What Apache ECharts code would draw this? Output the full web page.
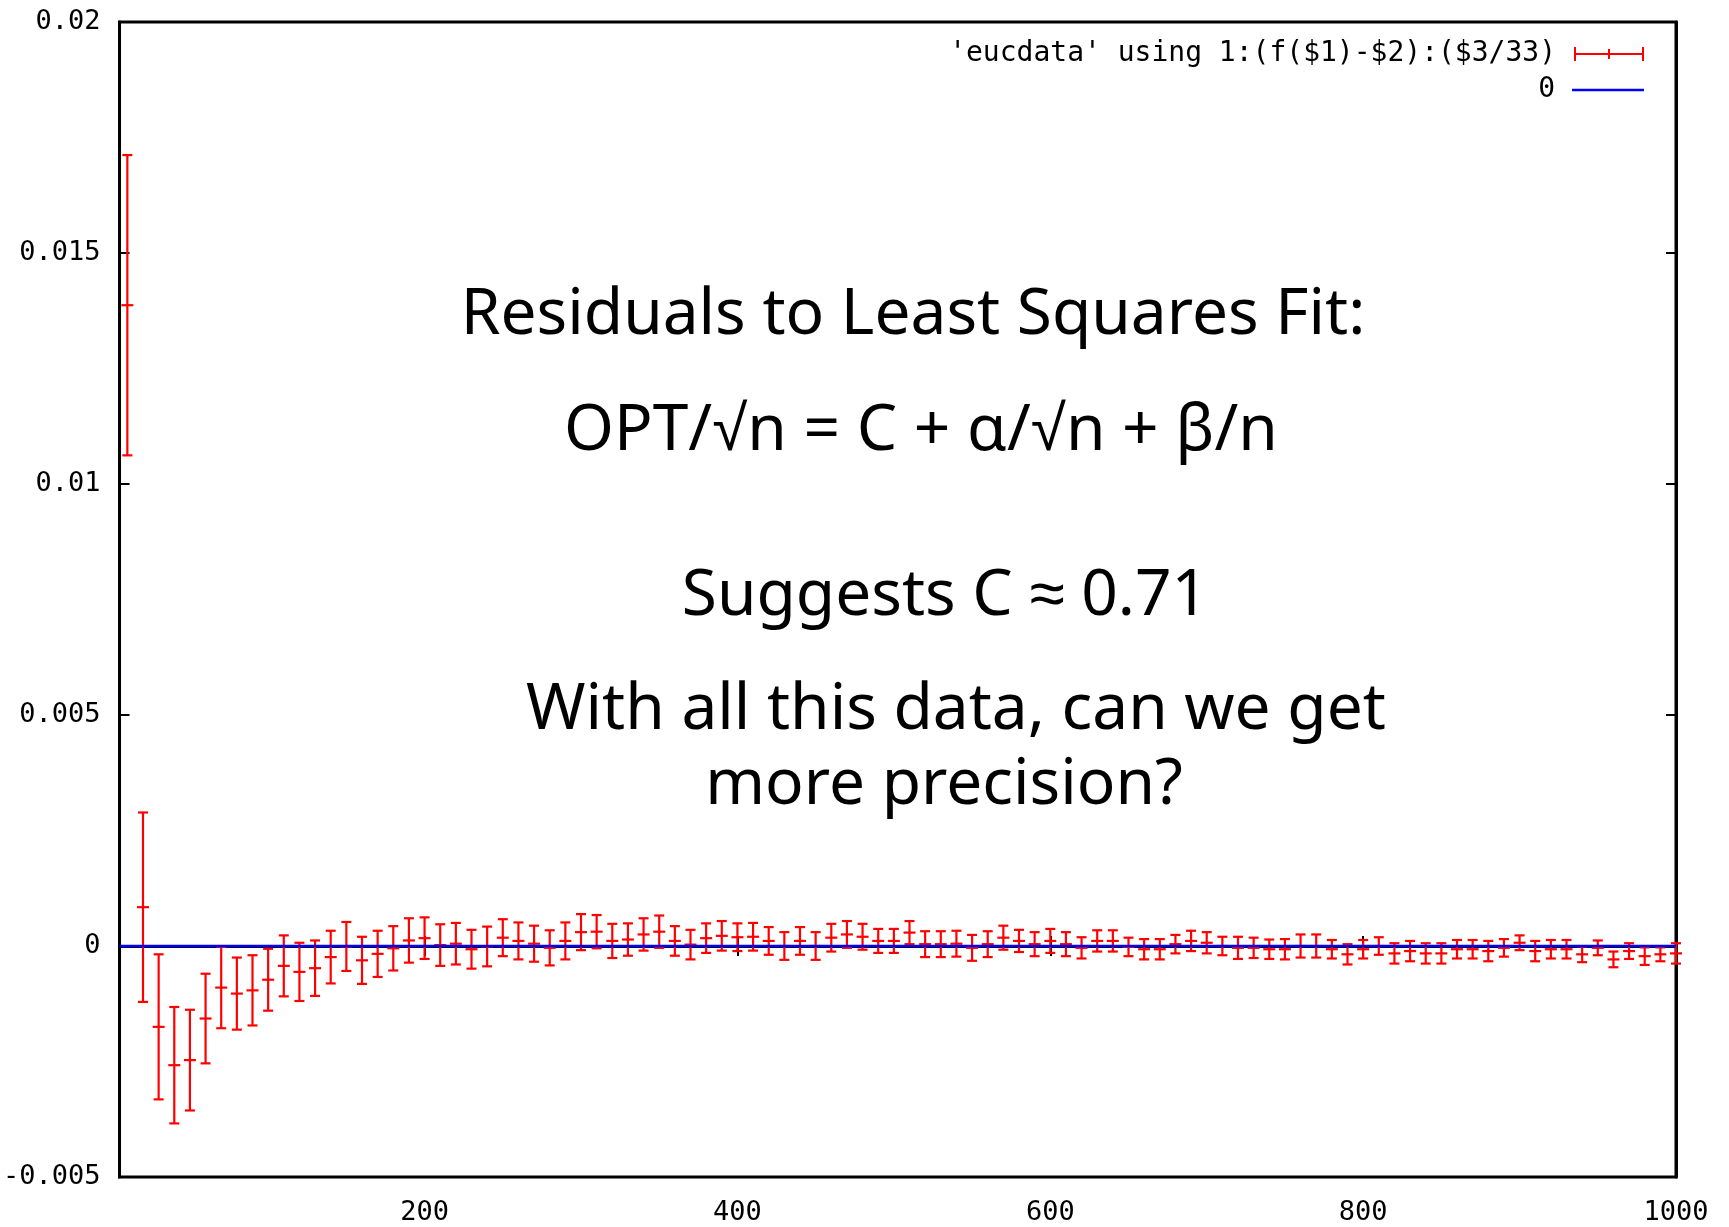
<!DOCTYPE html>
<html>
<head>
<meta charset="utf-8">
<script src="https://cdn.jsdelivr.net/npm/echarts@6/dist/echarts.min.js"></script>
<style>html,body{margin:0;padding:0;background:#fff}#c{width:1729px;height:1227px}</style>
</head>
<body>
<div id="c"></div>
<script>
// n values
const nValues = [10,20,30,40,50,60,70,80,90,100,110,120,130,140,150,160,170,180,190,200,
210,220,230,240,250,260,270,280,290,300,310,320,330,340,350,360,370,380,390,400,
410,420,430,440,450,460,470,480,490,500,510,520,530,540,550,560,570,580,590,600,
610,620,630,640,650,660,670,680,690,700,710,720,730,740,750,760,770,780,790,800,
810,820,830,840,850,860,870,880,890,900,910,920,930,940,950,960,970,980,990,1000];
// residual f($1)-$2
const residuals = [0.01387,0.00084,-0.00175,-0.00258,-0.00247,-0.00157,-0.00090,-0.00103,-0.00096,-0.00073,
-0.00043,-0.00056,-0.00048,-0.00024,-0.00001,-0.00031,-0.00017,-0.00005,0.00012,0.00017,
0.00002,0.00005,-0.00007,-0.00001,0.00018,0.00011,0.00005,-0.00004,0.00011,0.00030,
0.00031,0.00011,0.00014,0.00025,0.00031,0.00011,0.00003,0.00017,0.00022,0.00019,
0.00020,0.00011,0.00000,0.00011,0.00000,0.00018,0.00025,0.00020,0.00011,0.00011,
0.00029,0.00004,0.00004,0.00005,-0.00004,0.00004,0.00018,0.00011,0.00004,0.00011,
0.00004,-0.00004,0.00011,0.00011,-0.00002,-0.00007,-0.00007,0.00004,0.00011,0.00007,
0.00000,-0.00004,-0.00004,-0.00007,-0.00007,0.00000,0.00000,-0.00007,-0.00018,-0.00007,
0.00000,-0.00016,-0.00011,-0.00016,-0.00016,-0.00007,-0.00007,-0.00011,-0.00004,0.00007,
-0.00011,-0.00007,-0.00007,-0.00018,-0.00004,-0.00029,-0.00011,-0.00022,-0.00018,-0.00016];
// error $3/33
const errors = [0.00325,0.00205,0.00157,0.00126,0.00109,0.00097,0.00088,0.00078,0.00076,0.00067,
0.00066,0.00063,0.00060,0.00057,0.00053,0.00051,0.00050,0.00048,0.00048,0.00045,
0.00045,0.00045,0.00042,0.00043,0.00040,0.00040,0.00039,0.00038,0.00040,0.00039,
0.00036,0.00037,0.00035,0.00035,0.00035,0.00032,0.00032,0.00032,0.00032,0.00030,
0.00030,0.00030,0.00030,0.00030,0.00030,0.00030,0.00029,0.00028,0.00026,0.00026,
0.00025,0.00028,0.00028,0.00028,0.00028,0.00028,0.00026,0.00024,0.00026,0.00026,
0.00026,0.00023,0.00023,0.00023,0.00020,0.00022,0.00022,0.00020,0.00022,0.00023,
0.00020,0.00024,0.00022,0.00021,0.00022,0.00025,0.00025,0.00020,0.00022,0.00020,
0.00019,0.00022,0.00022,0.00022,0.00022,0.00020,0.00020,0.00022,0.00019,0.00016,
0.00022,0.00020,0.00020,0.00017,0.00016,0.00017,0.00017,0.00019,0.00015,0.00022];
const xTickValues = [200,400,600,800,1000];
const zeroLineX = [5,1000];
const zeroLineY = [0,0];
const seriesNames = ["'eucdata' using 1:(f($1)-$2):($3/33)", "0"];
const annotations = [
  "Residuals to Least Squares Fit:",
  "OPT/\u221An = C + \u03B1/\u221An + \u03B2/n",
  "Suggests C \u2248 0.71",
  "With all this data, can we get",
  "more precision?"
];

const errData = nValues.map((n,i)=>[n, residuals[i], errors[i]]);
const zeroData = zeroLineX.map((x,i)=>[x, zeroLineY[i]]);

const monoFont = "'DejaVu Sans Mono', monospace";
const annFont = "'Noto Sans', sans-serif";

const chart = echarts.init(document.getElementById('c'), null, {renderer:'canvas'});
const tickStyle = {inside:true, length:10, lineStyle:{color:'#000', width:2}};
const annStyle = (i, x, y) => ({type:'text', z:10, style:{text:annotations[i], x:x, y:y, textAlign:'center', textVerticalAlign:'middle', font:'64px '+annFont, fill:'#000'}});
const option = {
  backgroundColor:'#ffffff',
  animation:false,
  grid:{left:116, right:53, top:22, bottom:50, show:true, borderColor:'#000', borderWidth:3, backgroundColor:'transparent'},
  xAxis:[{
    type:'value', min:5, max:1000, position:'bottom',
    axisLine:{show:true, lineStyle:{color:'#000', width:3}},
    axisTick:Object.assign({customValues:xTickValues}, tickStyle),
    axisLabel:{customValues:xTickValues, color:'#000', fontFamily:monoFont, fontSize:27, margin:22, formatter:v=>String(v)},
    splitLine:{show:false}
  },{
    type:'value', min:5, max:1000, position:'top',
    axisLine:{show:true, lineStyle:{color:'#000', width:3}},
    axisTick:Object.assign({customValues:xTickValues}, tickStyle),
    axisLabel:{show:false},
    splitLine:{show:false}
  }],
  yAxis:[{
    type:'value', min:-0.005, max:0.02, interval:0.005, position:'left',
    axisLine:{show:true, lineStyle:{color:'#000', width:3}},
    axisTick:tickStyle,
    axisLabel:{color:'#000', fontFamily:monoFont, fontSize:27, margin:19},
    splitLine:{show:false}
  },{
    type:'value', min:-0.005, max:0.02, interval:0.005, position:'right',
    axisLine:{show:true, lineStyle:{color:'#000', width:3}},
    axisTick:tickStyle,
    axisLabel:{show:false},
    splitLine:{show:false}
  }],
  legend:[{
    data:[{name:seriesNames[0], icon:'path://M0,6h70v2H0z M0,0h2v14H0z M68,0h2v14h-2z M34,2h2v10h-2z'}],
    right:80, top:35, align:'right', orient:'vertical',
    itemWidth:72, itemHeight:14,
    textStyle:{color:'#000', fontFamily:monoFont, fontSize:28, padding:[0,12,0,0]},
    selectedMode:false
  },{
    data:[{name:seriesNames[1], icon:'path://M0,0h72v2.5H0z'}],
    right:80, top:71, align:'right', orient:'vertical',
    itemWidth:72, itemHeight:14,
    textStyle:{color:'#000', fontFamily:monoFont, fontSize:28, padding:[0,12,0,0]},
    selectedMode:false
  }],
  series:[{
    name:seriesNames[0],
    type:'custom',
    xAxisIndex:0, yAxisIndex:0,
    data:errData,
    itemStyle:{color:'#ff0000'},
    renderItem:function(params, api){
      const x = api.value(0), y = api.value(1), e = api.value(2);
      const pc = api.coord([x,y]);
      const pt = api.coord([x,y+e]);
      const pb = api.coord([x,y-e]);
      const hw = 5;
      const st = {stroke:'#ff0000', lineWidth:2.2};
      return {type:'group', children:[
        {type:'line', shape:{x1:pt[0],y1:pt[1],x2:pb[0],y2:pb[1]}, style:st},
        {type:'line', shape:{x1:pt[0]-hw,y1:pt[1],x2:pt[0]+hw,y2:pt[1]}, style:st},
        {type:'line', shape:{x1:pb[0]-hw,y1:pb[1],x2:pb[0]+hw,y2:pb[1]}, style:st},
        {type:'line', shape:{x1:pc[0]-hw-1,y1:pc[1],x2:pc[0]+hw+1,y2:pc[1]}, style:st}
      ]};
    },
    z:2
  },{
    name:seriesNames[1],
    type:'line',
    xAxisIndex:0, yAxisIndex:0,
    data:zeroData,
    symbol:'none',
    lineStyle:{color:'#0000ff', width:2.5},
    itemStyle:{color:'#0000ff'},
    z:3
  }],
  graphic:[
    annStyle(0, 913, 316),
    annStyle(1, 921, 432),
    annStyle(2, 945, 597),
    annStyle(3, 956, 711),
    annStyle(4, 944, 786)
  ]
};
chart.setOption(option);
</script>
</body>
</html>
